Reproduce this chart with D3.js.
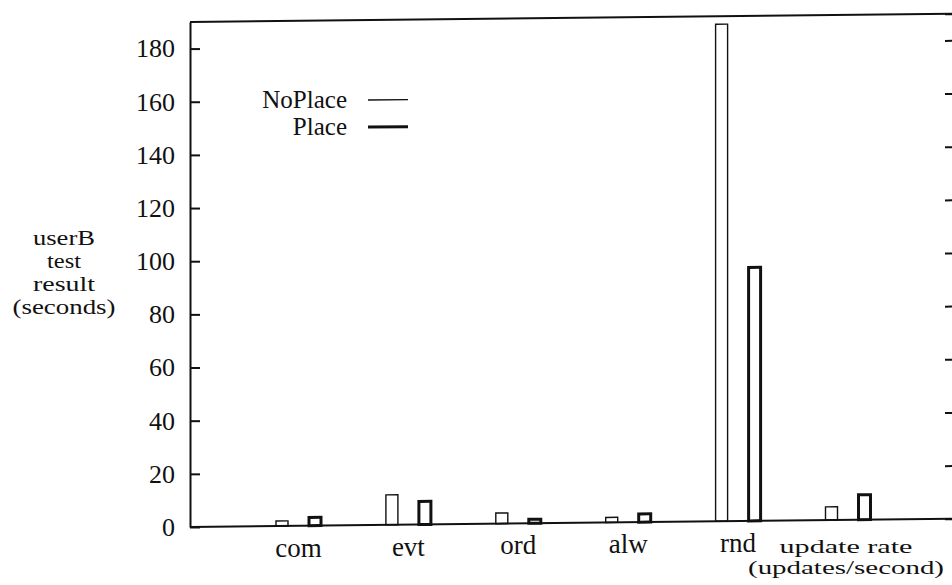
<!DOCTYPE html>
<html><head><meta charset="utf-8">
<script src="https://cdn.jsdelivr.net/npm/d3@7"></script>
<style>
body{margin:0;background:#fff;}
</style></head>
<body>
<svg id="chart" width="952" height="585"></svg>
<script>
const categories = ["com","evt","ord","alw","rnd",""];
const series = ["NoPlace","Place"];
const noPlace = [1.9, 11.3, 4.0, 1.9, 187, 5.0];
const place = [3.1, 8.7, 1.5, 3.1, 95.4, 9.4];
const yTicks = [0,20,40,60,80,100,120,140,160,180];
const yLabelLines = ["userB","test","result","(seconds)"];
const xTitleLines = ["update rate","(updates/second)"];

const FAM = "Liberation Serif";
const INK = "#111";
function font(sel, size){ return sel.attr("font-family",FAM).attr("font-size",size).attr("fill",INK); }

const svg = d3.select("#chart");
const L = 190, R = 955, B = 527, T = 22;
const SKEW = -0.62;
const tanS = Math.tan(SKEW*Math.PI/180);
const off = x => (x - L) * tanS;   // scanner skew offset for unskewed text layer
const g = svg.append("g").attr("transform",`translate(${L},${B}) skewY(${SKEW}) translate(${-L},${-B})`);
const tl = svg.append("g"); // text layer (not skewed)

const y = d3.scaleLinear().domain([0,190]).range([B,T]);
const x0 = d3.scalePoint().domain(categories).range([298.5,848]);
const x1 = d3.scaleBand().domain(series).range([-33,33]);
const barW = 12;
const values = {NoPlace: noPlace, Place: place};
const strokeW = {NoPlace: 1.4, Place: 3};

// frame
g.append("line").attr("x1",L).attr("x2",R).attr("y1",y(190)).attr("y2",y(190)).attr("stroke",INK).attr("stroke-width",2);
g.append("line").attr("x1",L).attr("x2",R).attr("y1",y(0)).attr("y2",y(0)).attr("stroke",INK).attr("stroke-width",2);

const la = tl.append("g").attr("transform",`translate(${L},0)`)
  .call(d3.axisLeft(y).tickValues(yTicks).tickSizeInner(-10).tickSizeOuter(0).tickPadding(15));
font(la, 26);
la.select(".domain").attr("stroke",INK).attr("stroke-width",2);
la.selectAll(".tick line").attr("stroke",INK).attr("stroke-width",2);
la.selectAll(".tick text").attr("fill",INK);

const ra = g.append("g").attr("transform",`translate(${R},0)`)
  .call(d3.axisLeft(y).tickValues(yTicks.filter(d=>d>0)).tickSize(10).tickFormat(""));
ra.select(".domain").attr("stroke",INK).attr("stroke-width",2);
ra.selectAll(".tick line").attr("stroke",INK).attr("stroke-width",2);

// bars
series.forEach(s=>{
  g.append("g").selectAll("rect").data(categories.map((c,i)=>({c,v:values[s][i]})))
    .join("rect")
    .attr("x",d=>x0(d.c)+x1(s)+(x1.bandwidth()-barW)/2)
    .attr("width",barW)
    .attr("y",d=>y(d.v))
    .attr("height",d=>y(0)-y(d.v))
    .attr("fill","none").attr("stroke",INK).attr("stroke-width",strokeW[s]);
});

// category labels
font(tl.append("g"), 27).selectAll("text").data(categories).join("text")
  .attr("x",d=>x0(d)).attr("y",d=>B+31+off(x0(d))).attr("text-anchor","middle").text(d=>d);

// x title
const xtW = [133, 196];
const xtX = x0(categories[categories.length-1])-2;
font(tl.append("g"), 19).selectAll("text").data(xTitleLines).join("text")
  .attr("x",xtX).attr("y",(d,i)=>B+33+i*21+off(xtX))
  .attr("text-anchor","middle")
  .attr("textLength",(d,i)=>xtW[i]).attr("lengthAdjust","spacingAndGlyphs").text(d=>d);

// y label
const ylW = [62, 34, 62, 103];
font(tl.append("g"), 20).selectAll("text").data(yLabelLines).join("text")
  .attr("x",64).attr("y",(d,i)=>245+i*23).attr("text-anchor","middle")
  .attr("textLength",(d,i)=>ylW[i]).attr("lengthAdjust","spacingAndGlyphs").text(d=>d);

// legend
const legT = font(tl.append("g"), 25);
series.forEach((s,i)=>{
  const ly = 102 + i*27;
  legT.append("text").attr("x",347).attr("y",ly+7+off(300)).attr("text-anchor","end").text(s);
  g.append("line").attr("x1",368).attr("x2",408).attr("y1",ly).attr("y2",ly).attr("stroke",INK).attr("stroke-width",strokeW[s]);
});
</script>
</body></html>
